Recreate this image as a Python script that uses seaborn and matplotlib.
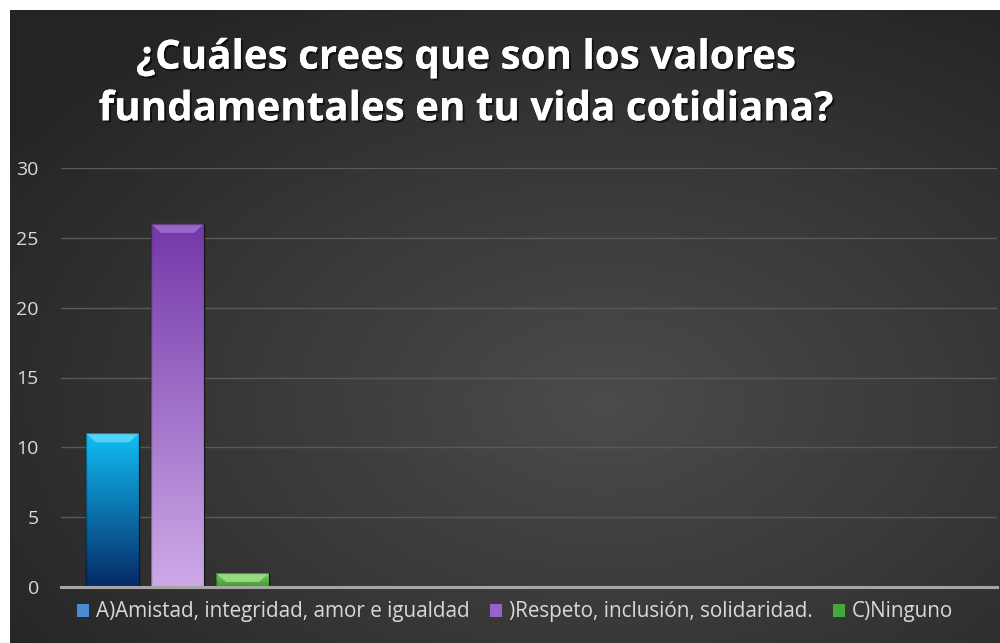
import numpy as np
import pandas as pd
import matplotlib
matplotlib.use("Agg")
import matplotlib.pyplot as plt
import matplotlib.patheffects as pe
from matplotlib.colors import LinearSegmentedColormap
from matplotlib.patches import Rectangle, Polygon
import seaborn as sns

# ---- data ----
title = "¿Cuáles crees que son los valores\nfundamentales en tu vida cotidiana?"
series = ["A)Amistad, integridad, amor e igualdad",
          ")Respeto, inclusión, solidaridad.",
          "C)Ninguno"]
values = [11, 26, 1]
category = [""]
yticks = [0, 5, 10, 15, 20, 25, 30]

# styles
top_colors = ["#12BDF5", "#7437A9", "#7CCB63"]
bottom_colors = ["#052A66", "#CDAAE8", "#3F9A30"]
bevel_colors = ["#5FD8FA", "#A070D0", "#9FE08A"]
legend_colors = ["#4A8BD6", "#9462C9", "#44A83A"]

sns.set_theme(style="dark")
plt.rcParams['font.family'] = ['Open Sans', 'DejaVu Sans']

fig = plt.figure(figsize=(10, 6.43), dpi=100, facecolor="white")

# dark background panel with radial gradient
bg = fig.add_axes([0.010, 0.0, 0.990, 1 - 10 / 643], zorder=-10)
h, w = 300, 480
yy, xx = np.mgrid[0:h, 0:w]
cx, cy = 0.6 * w, 0.62 * h
r = np.sqrt(((xx - cx) / w) ** 2 + ((yy - cy) / h) ** 2)
r = np.clip(r / 0.75, 0, 1)
bgcmap = LinearSegmentedColormap.from_list("bg", ["#4B4B4B", "#383838", "#242424"])
bg.imshow(r, cmap=bgcmap, aspect="auto", extent=[0, 1, 0, 1], origin="upper", vmin=0, vmax=1)
bg.set_axis_off()

ax = fig.add_axes([0.061, 1 - 587 / 643, 0.936, (587 - 168) / 643])
ax.set_facecolor("none")

df = pd.DataFrame({"cat": category * len(series), "serie": series, "val": values})
sns.barplot(data=df, x="cat", y="val", hue="serie", hue_order=series,
            palette=top_colors, width=0.8, gap=0.185, ax=ax, legend=False,
            linewidth=0.8, edgecolor="#222222", zorder=3)

ax.set_ylim(0, 30)
ax.set_xlim(-0.478, 3.362)

# gradient fill of bars with a small top bevel
ppx = 3.84 / 936.0      # data units per pixel in x
ppy = 30.0 / 419.0      # data units per pixel in y
for i, cont in enumerate(ax.containers):
    cm = LinearSegmentedColormap.from_list(f"g{i}", [bottom_colors[i], top_colors[i]])
    for p in cont.patches:
        x0, y0 = p.get_x(), p.get_y()
        bw, bh = p.get_width(), p.get_height()
        grad = np.linspace(0, 1, 256).reshape(-1, 1)
        im = ax.imshow(grad, cmap=cm, aspect="auto", origin="lower",
                       extent=[x0, x0 + bw, y0, y0 + bh], zorder=4)
        im.set_clip_path(p)
        bx, by = 10 * ppx, 9 * ppy
        top = y0 + bh
        ax.add_patch(Polygon([(x0, top), (x0 + bw, top), (x0 + bw - bx, top - by), (x0 + bx, top - by)],
                             closed=True, facecolor=bevel_colors[i], edgecolor="none",
                             alpha=0.85, zorder=5))
        ax.add_patch(Rectangle((x0, y0), bw, bh, fill=False,
                               edgecolor=(0, 0, 0, 0.35), linewidth=1.0, zorder=6))
ax.set_xlim(-0.478, 3.362)
ax.set_ylim(0, 30)

ax.set_yticks(yticks)
ax.set_yticklabels([str(t) for t in yticks])
ax.yaxis.grid(True, color="#595959", linewidth=1.0, zorder=0)
ax.xaxis.grid(False)
ax.set_xticks([])
ax.set_xlabel("")
ax.set_ylabel("")
for s in ["top", "right", "left"]:
    ax.spines[s].set_visible(False)
ax.spines["bottom"].set_color("#A6A6A6")
ax.spines["bottom"].set_linewidth(2.2)
ax.spines["bottom"].set_zorder(7)
ax.tick_params(axis="y", colors="#D9D9D9", labelsize=14, length=0, pad=16)

# title
fig.text(0.465, 1 - 84 / 643, title, ha="center", va="center", color="white",
         fontsize=29, fontweight="bold", linespacing=1.42,
         path_effects=[pe.withSimplePatchShadow(offset=(1.5, -1.5), shadow_rgbFace="black", alpha=0.6),
                       pe.Normal()])

# legend
handles = [Rectangle((0, 0), 1, 1, facecolor=c, edgecolor="none") for c in legend_colors]
leg = fig.legend(handles, series, loc="center", bbox_to_anchor=(0.515, 1 - 612 / 643),
                 ncol=3, frameon=False, handlelength=0.6, handleheight=0.6,
                 handletextpad=0.3, columnspacing=1.0,
                 prop={"family": ["Open Sans", "DejaVu Sans"], "size": 14.9})
for t in leg.get_texts():
    t.set_color("#D9D9D9")

fig.savefig("out.png", dpi=100, facecolor="white")
